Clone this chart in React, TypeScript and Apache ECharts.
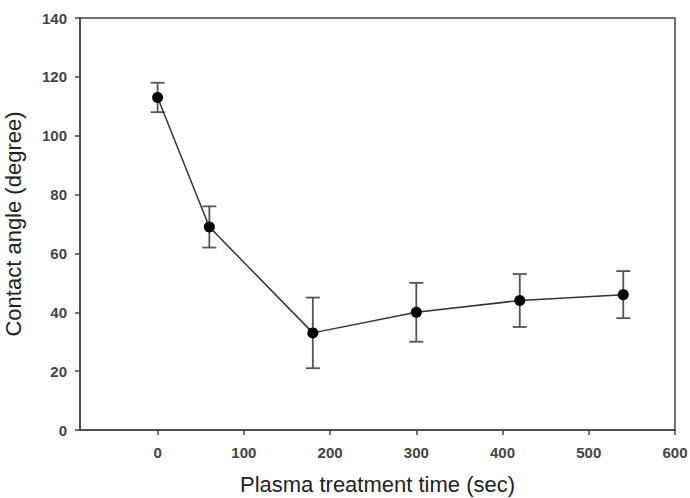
import React, { useEffect, useRef } from "react";
import * as echarts from "echarts";

// Plasma treatment time (s) and measured contact angle (deg) with error ranges
const times = [0, 60, 180, 300, 420, 540];
const angles = [113, 69, 33, 40, 44, 46];
const lowErr = [108, 62, 21, 30, 35, 38];
const highErr = [118, 76, 45, 50, 53, 54];
const xTicks = [0, 100, 200, 300, 400, 500, 600];
const yTicks = [0, 20, 40, 60, 80, 100, 120, 140];

const FONT = "'Liberation Sans', Arial, Helvetica, sans-serif";
const AXIS_COLOR = "#444";

export default function App() {
  const ref = useRef<HTMLDivElement>(null);

  useEffect(() => {
    if (!ref.current) return;
    const chart = echarts.init(ref.current, undefined, { renderer: "svg" });

    const points = times.map((t, i) => [t, angles[i]]);
    const bars = times.map((t, i) => [t, lowErr[i], highErr[i]]);

    chart.setOption({
      animation: false,
      backgroundColor: "#fff",
      grid: {
        left: 80,
        right: 15,
        top: 18,
        bottom: 68,
        outerBoundsMode: "none",
        containLabel: false,
        show: true,
        borderColor: AXIS_COLOR,
        borderWidth: 1.5,
        backgroundColor: "transparent",
      },
      xAxis: {
        type: "value",
        min: -90,
        max: 600,
        name: "Plasma treatment time (sec)",
        nameLocation: "middle",
        nameGap: 43,
        nameTextStyle: { fontFamily: FONT, fontSize: 22, color: "#222" },
        axisLine: { show: true, onZero: false, lineStyle: { color: AXIS_COLOR, width: 1.5 } },
        axisTick: {
          show: true,
          length: 5,
          customValues: xTicks,
          lineStyle: { color: AXIS_COLOR, width: 1.5 },
        },
        axisLabel: {
          customValues: xTicks,
          fontFamily: FONT,
          fontSize: 15,
          fontWeight: "bold",
          color: "#444",
          margin: 15,
        },
        splitLine: { show: false },
      },
      yAxis: {
        type: "value",
        min: 0,
        max: 140,
        interval: 20,
        name: "Contact angle (degree)",
        nameLocation: "middle",
        nameGap: 56,
        nameTextStyle: { fontFamily: FONT, fontSize: 22, color: "#222" },
        axisLine: { show: true, onZero: false, lineStyle: { color: AXIS_COLOR, width: 1.5 } },
        axisTick: { show: true, length: 5, lineStyle: { color: AXIS_COLOR, width: 1.5 } },
        axisLabel: {
          fontFamily: FONT,
          fontSize: 15,
          fontWeight: "bold",
          color: "#444",
          margin: 13,
          formatter: (v: number) => (yTicks.includes(v) ? String(v) : ""),
        },
        splitLine: { show: false },
      },
      series: [
        {
          type: "custom",
          z: 2,
          data: bars,
          renderItem: (_params: any, api: any) => {
            const x = api.value(0);
            const lo = api.coord([x, api.value(1)]);
            const hi = api.coord([x, api.value(2)]);
            const cap = 7;
            const style = { stroke: "#555", lineWidth: 1.8 };
            return {
              type: "group",
              children: [
                { type: "line", shape: { x1: lo[0], y1: lo[1], x2: hi[0], y2: hi[1] }, style },
                { type: "line", shape: { x1: lo[0] - cap, y1: lo[1], x2: lo[0] + cap, y2: lo[1] }, style },
                { type: "line", shape: { x1: hi[0] - cap, y1: hi[1], x2: hi[0] + cap, y2: hi[1] }, style },
              ],
            };
          },
        },
        {
          type: "line",
          z: 3,
          data: points,
          symbol: "circle",
          symbolSize: 11,
          itemStyle: { color: "#000" },
          lineStyle: { color: "#333", width: 1.5 },
        },
      ],
    });

    return () => chart.dispose();
  }, []);

  return (
    <div
      ref={ref}
      style={{ position: "absolute", left: 0, top: 0, width: 690, height: 498 }}
    />
  );
}
